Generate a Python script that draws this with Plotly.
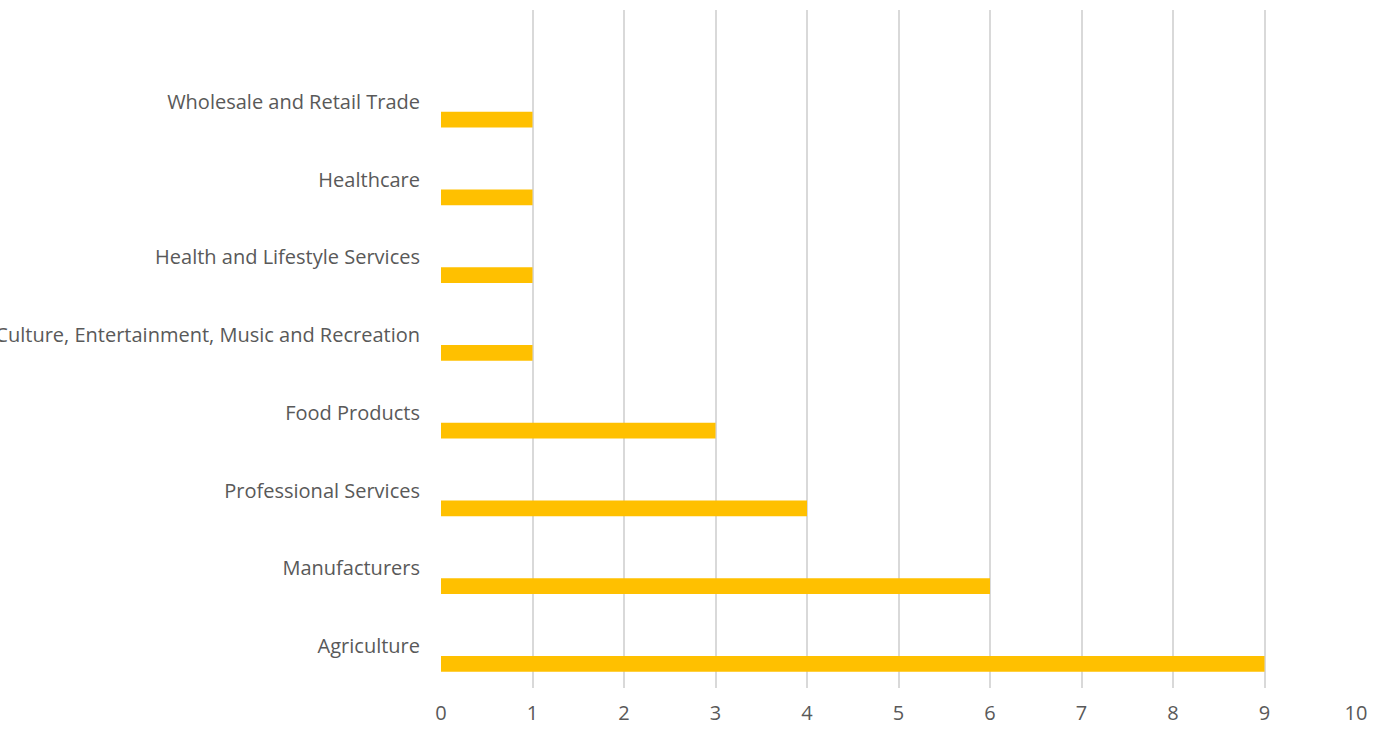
import plotly.graph_objects as go

# Industry sectors (bottom to top) and number of businesses in each
sectors = [
    "Agriculture",
    "Manufacturers",
    "Professional Services",
    "Food Products",
    "Culture, Entertainment, Music and Recreation",
    "Health and Lifestyle Services",
    "Healthcare",
    "Wholesale and Retail Trade",
]
counts = [9, 6, 4, 3, 1, 1, 1, 1]

x_ticks = list(range(0, 11))

FONT = "Open Sans"
TEXT_COLOR = "#595959"
GRID_COLOR = "#d9d9d9"
BAR_COLOR = "#FFC000"

fig = go.Figure()
fig.add_trace(
    go.Bar(
        x=counts,
        y=sectors,
        orientation="h",
        marker=dict(color=BAR_COLOR, line=dict(width=0)),
        width=0.2,
        offset=-0.33,
        hoverinfo="x+y",
    )
)

fig.update_layout(
    width=1385,
    height=729,
    margin=dict(l=441, r=29, t=10, b=41, autoexpand=False),
    paper_bgcolor="white",
    plot_bgcolor="white",
    showlegend=False,
    font=dict(family=FONT, size=20, color=TEXT_COLOR),
    xaxis=dict(
        range=[0, 10],
        tickvals=x_ticks,
        showgrid=True,
        gridcolor=GRID_COLOR,
        gridwidth=2,
        zeroline=False,
        showline=False,
        ticks="",
        ticklabelstandoff=11,
        automargin=False,
        fixedrange=True,
    ),
    yaxis=dict(
        type="category",
        categoryorder="array",
        categoryarray=sectors,
        range=[-0.54, 8.18],
        showgrid=False,
        zeroline=False,
        showline=False,
        ticks="",
        ticklabelstandoff=20,
        automargin=False,
        fixedrange=True,
    ),
)

fig.write_html("out.html")
